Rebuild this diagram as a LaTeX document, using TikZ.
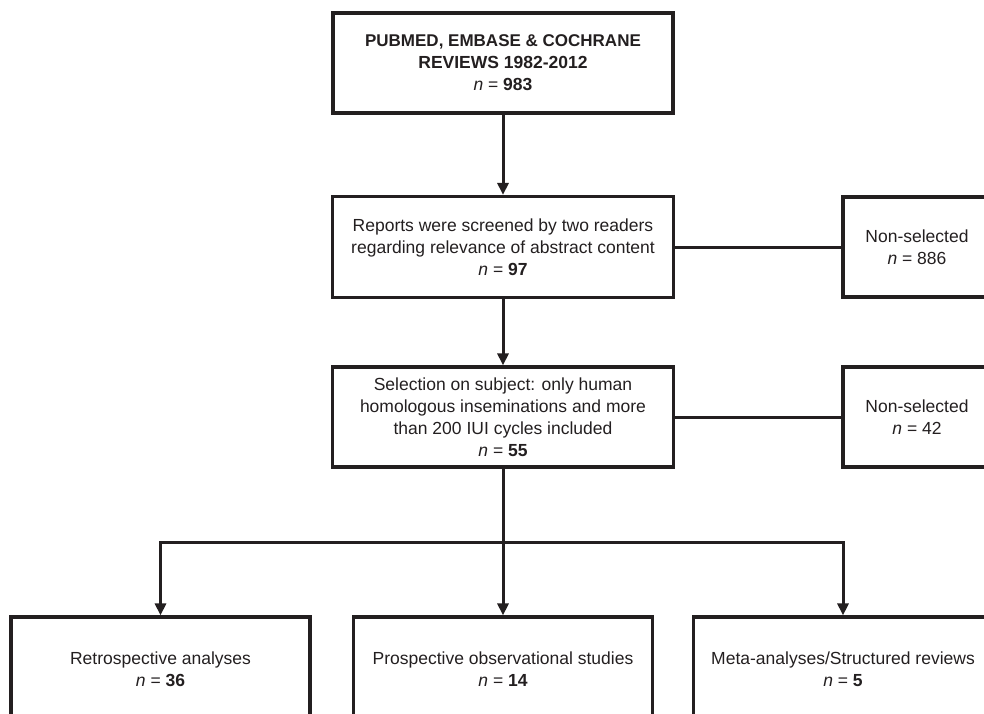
\documentclass[tikz,border=0pt]{standalone}
\usepackage{fontspec}
\setmainfont{Liberation Sans}
\usetikzlibrary{arrows.meta}
\definecolor{ink}{HTML}{231F20}
\tikzset{
  box/.style={draw=ink, line width=3.2pt, text=ink, align=center, inner sep=0pt,
    font=\fontsize{17.5}{22}\selectfont},
  link/.style={draw=ink, line width=3pt},
  arrow/.style={link, -{Triangle[length=12pt,width=11pt]}}
}
\begin{document}
\begin{tikzpicture}[x=1pt,y=-1pt]
		\useasboundingbox (0,0) rectangle (984,713);
		\clip (0,0) rectangle (984,713);

		\node[box, minimum width=340pt, minimum height=100pt] (search) at (503,63)
			{\fontsize{17}{22}\selectfont\textbf{PUBMED, EMBASE \& COCHRANE}\\ \textbf{REVIEWS 1982-2012}\\ \textit{n} = \textbf{983}};
		\node[box, minimum width=341pt, minimum height=101pt] (screen) at (503,247)
			{Reports were screened by two readers\\ regarding relevance of abstract content\\ \textit{n} = \textbf{97}};
		\node[box, minimum width=341pt, minimum height=100pt] (subject) at (503,417)
			{Selection on subject: only human\\ homologous inseminations and more\\ than 200 IUI cycles included\\ \textit{n} = \textbf{55}};

		\node[box, minimum width=148pt, minimum height=100pt] (nonsel1) at (917,247)
			{Non-selected\\ \textit{n} = 886};
		\node[box, minimum width=148pt, minimum height=100pt] (nonsel2) at (917,417)
			{Non-selected\\ \textit{n} = 42};

		\node[box, minimum width=299pt, minimum height=104pt] (retro) at (160.5,669)
			{Retrospective analyses\\ \textit{n} = \textbf{36}};
		\node[box, minimum width=299pt, minimum height=104pt] (prosp) at (503,669)
			{Prospective observational studies\\ \textit{n} = \textbf{14}};
		\node[box, minimum width=299pt, minimum height=104pt] (meta) at (843,669)
			{Meta-analyses/Structured reviews\\ \textit{n} = \textbf{5}};

		\coordinate (split) at (503,542);

		\draw[arrow] (search) -- (screen);
		\draw[arrow] (screen) -- (subject);
		\draw[link] (screen) -- (nonsel1);
		\draw[link] (subject) -- (nonsel2);

		\draw[link] (subject) -- (split);
		\draw[arrow] (split) -| (retro);
		\draw[arrow] (split) -- (prosp);
		\draw[arrow] (split) -| (meta);
    \end{tikzpicture}
\end{document}
